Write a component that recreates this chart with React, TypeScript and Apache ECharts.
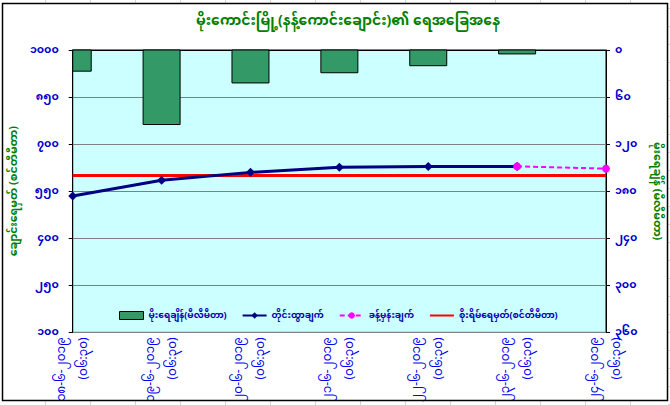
import React, { useEffect, useRef } from "react";
import * as echarts from "echarts";

const FONT = "'Noto Sans Myanmar', 'Myanmar Text', Padauk, 'Noto Sans', sans-serif";

const TITLE = "မိုးကောင်းမြို့(နန့်ကောင်းချောင်း)၏ ရေအခြေအနေ";
const LEFT_NAME = "ချောင်းရေမှတ် (စင်တီမီတာ)";
const RIGHT_NAME = "မိုးရေချိန် (မီလီမီတာ)";

const categories = [
  "၁၈-၆-၂၀၁၉\n(၀၆:၃၀)",
  "၁၉-၆-၂၀၁၉\n(၀၆:၃၀)",
  "၂၀-၆-၂၀၁၉\n(၀၆:၃၀)",
  "၂၁-၆-၂၀၁၉\n(၀၆:၃၀)",
  "၂၂-၆-၂၀၁၉\n(၀၆:၃၀)",
  "၂၃-၆-၂၀၁၉\n(၀၆:၃၀)",
  "၂၄-၆-၂၀၁၉\n(၀၆:၃၀)",
];

const seriesNames = [
  "မိုးရေချိန်(မီလီမီတာ)",
  "တိုင်းထွာချက်",
  "ခန့်မှန်းချက်",
  "စိုးရိမ်ရေမှတ်(စင်တီမီတာ)",
];

const rainfall: (number | null)[] = [27, 95, 42, 29, 20, 5, null];
const measured: (number | string)[] = [535, 585, 610, 626, 629, 629, "-"];
const forecast: (number | string)[] = ["-", "-", "-", "-", "-", 629, 622];
const danger: number[] = [600, 600, 600, 600, 600, 600, 600];

const leftAxisRange = [100, 1000];
const leftAxisStep = 150;
const rightAxisRange = [0, 360];
const rightAxisStep = 60;

const MY_DIGITS = ["၀", "၁", "၂", "၃", "၄", "၅", "၆", "၇", "၈", "၉"];
const toMyanmar = (v: number) =>
  String(v).replace(/[0-9]/g, (d) => MY_DIGITS[Number(d)]);

const BAR_FILL = "#339966";

export default function App() {
  const ref = useRef<HTMLDivElement>(null);

  useEffect(() => {
    document.body.style.margin = "0";
    if (!ref.current) return;
    const chart = echarts.init(ref.current, undefined, { renderer: "svg" });

    const sheetLines: any[] = [];
    for (let x = 45.5; x < 670; x += 45) {
      sheetLines.push({
        type: "line",
        shape: { x1: x, y1: 0, x2: x, y2: 3 },
        style: { stroke: "#d4d4d4", lineWidth: 1 },
        silent: true,
      });
      sheetLines.push({
        type: "line",
        shape: { x1: x, y1: 401, x2: x, y2: 405 },
        style: { stroke: "#d4d4d4", lineWidth: 1 },
        silent: true,
      });
    }
    for (let y = 8.5; y < 405; y += 18) {
      sheetLines.push({
        type: "line",
        shape: { x1: 668, y1: y, x2: 670, y2: y },
        style: { stroke: "#d4d4d4", lineWidth: 1 },
        silent: true,
      });
    }

    const barData = rainfall
      .map((v, i) => (v == null ? null : [i, v]))
      .filter((d) => d !== null);

    const option: any = {
      animation: false,
      backgroundColor: "#ffffff",
      textStyle: { fontFamily: FONT },
      title: {
        text: TITLE,
        left: 343,
        top: 9,
        textAlign: "center",
        textStyle: {
          color: "#008000",
          fontSize: 14,
          fontWeight: "bold",
          fontFamily: FONT,
        },
      },
      graphic: [
        ...sheetLines,
        {
          type: "rect",
          shape: { x: 2.5, y: 3.5, width: 665, height: 397 },
          style: { fill: "none", stroke: "#000000", lineWidth: 1.5 },
          silent: true,
          z: 100,
        },
      ],
      legend: {
        top: 306,
        left: 114,
        itemGap: 15,
        itemWidth: 24,
        itemHeight: 8,
        textStyle: {
          color: "#0000b0",
          fontSize: 9,
          fontWeight: "bold",
          fontFamily: FONT,
        },
        data: [
          {
            name: seriesNames[0],
            icon: "rect",
            itemStyle: { color: BAR_FILL, borderColor: "#000000", borderWidth: 1 },
          },
          seriesNames[1],
          seriesNames[2],
          {
            name: seriesNames[3],
            itemStyle: { color: "rgba(0,0,0,0)", borderWidth: 0, opacity: 0 },
          },
        ],
      },
      grid: {
        left: 67,
        right: 59,
        top: 50,
        bottom: 72,
        show: true,
        backgroundColor: "#ccffff",
        borderColor: "#000000",
        borderWidth: 1,
        containLabel: false,
      },
      xAxis: {
        type: "category",
        data: categories,
        boundaryGap: false,
        axisLine: { lineStyle: { color: "#000000", width: 1 } },
        axisTick: { show: true, length: 4, lineStyle: { color: "#000000" } },
        axisLabel: {
          rotate: 90,
          color: "#0000ee",
          fontSize: 12,
          lineHeight: 22,
          margin: 5,
          interval: 0,
          fontFamily: FONT,
        },
        splitLine: { show: false },
      },
      yAxis: [
        {
          type: "value",
          min: leftAxisRange[0],
          max: leftAxisRange[1],
          interval: leftAxisStep,
          name: LEFT_NAME,
          nameLocation: "middle",
          nameRotate: 90,
          nameGap: 50,
          nameTextStyle: {
            color: "#008000",
            fontSize: 11,
            fontWeight: "bold",
            fontFamily: FONT,
          },
          axisLine: { show: true, lineStyle: { color: "#000000" } },
          axisTick: { show: true, length: 4, lineStyle: { color: "#000000" } },
          axisLabel: {
            color: "#0000cc",
            fontSize: 11,
            fontWeight: "bold",
            margin: 14,
            fontFamily: FONT,
            formatter: (v: number) => toMyanmar(v),
          },
          splitLine: { show: true, lineStyle: { color: "#808080", width: 1 } },
        },
        {
          type: "value",
          min: rightAxisRange[0],
          max: rightAxisRange[1],
          interval: rightAxisStep,
          inverse: true,
          position: "right",
          name: RIGHT_NAME,
          nameLocation: "middle",
          nameRotate: -90,
          nameGap: 45,
          nameTextStyle: {
            color: "#008000",
            fontSize: 11,
            fontWeight: "bold",
            fontFamily: FONT,
          },
          axisLine: { show: true, lineStyle: { color: "#000000" } },
          axisTick: { show: true, length: 4, lineStyle: { color: "#000000" } },
          axisLabel: {
            color: "#0000cc",
            fontSize: 11,
            fontWeight: "bold",
            margin: 9,
            fontFamily: FONT,
            formatter: (v: number) => toMyanmar(v),
          },
          splitLine: { show: false },
        },
      ],
      series: [
        {
          name: seriesNames[0],
          type: "custom",
          yAxisIndex: 1,
          data: barData,
          encode: { x: 0, y: 1 },
          itemStyle: { color: BAR_FILL, borderColor: "#000000", borderWidth: 1 },
          z: 2,
          renderItem: (params: any, api: any) => {
            const idx = api.value(0);
            const val = api.value(1);
            const p0 = api.coord([idx, 0]);
            const p1 = api.coord([idx, val]);
            const halfW = 18.5;
            const cs = params.coordSys;
            const rect = echarts.graphic.clipRectByRect(
              { x: p0[0] - halfW, y: p0[1], width: halfW * 2, height: p1[1] - p0[1] },
              { x: cs.x, y: cs.y, width: cs.width, height: cs.height }
            );
            if (!rect) return null;
            return {
              type: "rect",
              shape: rect,
              style: { fill: BAR_FILL, stroke: "#000000", lineWidth: 1 },
            };
          },
        },
        {
          name: seriesNames[1],
          type: "line",
          yAxisIndex: 0,
          data: measured,
          symbol: "diamond",
          symbolSize: 9,
          itemStyle: { color: "#000080" },
          lineStyle: { color: "#000080", width: 3 },
          z: 4,
        },
        {
          name: seriesNames[2],
          type: "line",
          yAxisIndex: 0,
          data: forecast,
          symbol: "circle",
          symbolSize: 8,
          itemStyle: { color: "#ff00ff" },
          lineStyle: { color: "#ff00ff", width: 2, type: [5, 3] },
          z: 5,
        },
        {
          name: seriesNames[3],
          type: "line",
          yAxisIndex: 0,
          data: danger,
          symbol: "none",
          itemStyle: { color: "#ff0000" },
          lineStyle: { color: "#ff0000", width: 3 },
          z: 3,
        },
      ],
    };

    chart.setOption(option);
    return () => chart.dispose();
  }, []);

  return <div ref={ref} style={{ width: 670, height: 405 }} />;
}
